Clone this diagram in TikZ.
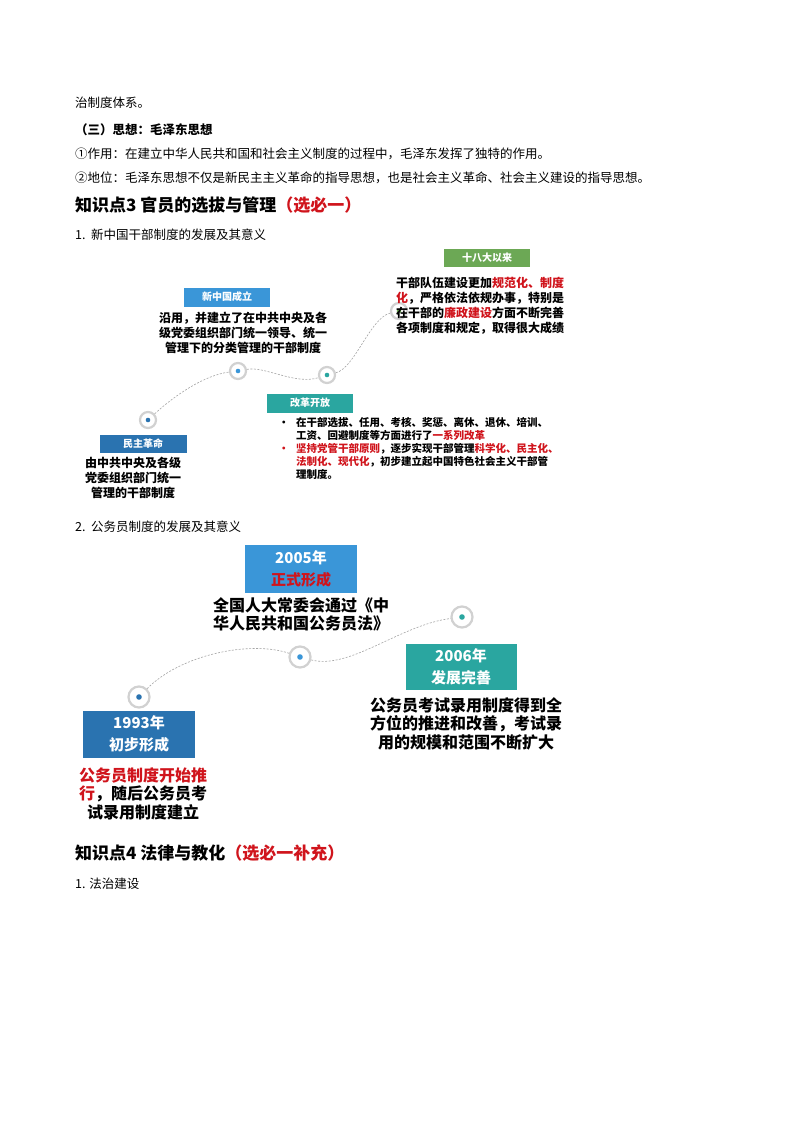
\documentclass[tikz,border=0pt]{standalone}
\usepackage{fontspec}
\setmainfont{Noto Sans CJK SC}
\XeTeXlinebreaklocale "zh"
\XeTeXlinebreakskip=0pt plus 1pt
\usetikzlibrary{calc}
\definecolor{cblue}{HTML}{3A96D8}
\definecolor{dblue}{HTML}{2A73B0}
\definecolor{cteal}{HTML}{2AA6A0}
\definecolor{cgreen}{HTML}{6CA855}
\definecolor{cred}{HTML}{D0141C}
\newcommand{\rt}[1]{\textcolor{cred}{#1}}
\begin{document}
\begin{tikzpicture}[x=1pt,y=-1pt,
  body/.style={anchor=west,inner sep=0,font=\fontsize{12.5}{15}\selectfont},
  head/.style={anchor=west,inner sep=0,font=\fontsize{17}{20}\selectfont\bfseries},
  tag/.style={fill=#1,text=white,inner sep=0,font=\fontsize{10}{12}\selectfont\bfseries},
  btag/.style={fill=#1,text=white,inner sep=0,align=center,font=\fontsize{15}{22}\selectfont\bfseries},
  desc/.style={inner sep=0,font=\fontsize{12}{15}\selectfont\bfseries},
  bdesc/.style={inner sep=0,font=\fontsize{16}{18.5}\selectfont\bfseries},
  ring/.style={circle,draw=black!18,line width=2.2pt,fill=white,minimum size=#1,inner sep=0},
  path1/.style={draw=black!35,line width=0.6pt,dash pattern=on 2pt off 1.5pt}]
\useasboundingbox (0,0) rectangle (800,1132);
\fill[white] (0,0) rectangle (800,1132);
\node[body] (t1) at (75,103) {治制度体系。};
\node[body,font=\fontsize{12.5}{15}\selectfont\bfseries] (t2) at (75,130) {（三）思想：毛泽东思想};
\node[body] (t3) at (75,154) {①作用：在建立中华人民共和国和社会主义制度的过程中，毛泽东发挥了独特的作用。};
\node[body] (t4) at (75,178) {②地位：毛泽东思想不仅是新民主主义革命的指导思想，也是社会主义革命、社会主义建设的指导思想。};
\node[head] (h1) at (75,205) {知识点3 官员的选拔与管理\rt{（选必一）}};
\node[body] (s1) at (75,235) {1.\ \ 新中国干部制度的发展及其意义};
% diagram 1
\node[ring=16pt] (a1) at (148,420) {}; \fill[dblue] (a1) circle (2.3);
\node[ring=16pt] (a2) at (238,371) {}; \fill[cblue] (a2) circle (2.3);
\node[ring=16pt] (a3) at (327,375) {}; \fill[cteal] (a3) circle (2.3);
\node[ring=16pt] (a4) at (399,311) {}; \fill[cgreen] (a4) circle (2.3);
\draw[path1] (a1) .. controls (175,395) and (205,375) .. (a2);
\draw[path1] (a2) .. controls (265,366) and (295,385) .. (a3);
\draw[path1] (a3) .. controls (355,368) and (370,318) .. (a4);
\node[tag=cgreen,minimum width=86,minimum height=18] (b4) at (487,258) {十八大以来};
\node[desc,anchor=north west,align=left] (d4) at (396,277) {干部队伍建设更加\rt{规范化、制度}\\\rt{化}，严格依法依规办事，特别是\\在干部的\rt{廉政建设}方面不断完善\\各项制度和规定，取得很大成绩};
\node[tag=cblue,minimum width=86,minimum height=19] (b2) at (227,297) {新中国成立};
\node[desc,anchor=north,align=center] (d2) at (243,312) {沿用，并建立了在中共中央及各\\级党委组织部门统一领导、统一\\管理下的分类管理的干部制度};
\node[tag=cteal,minimum width=86,minimum height=19] (b3) at (310,403) {改革开放};
\node[inner sep=0,anchor=north west,align=left,font=\fontsize{10.5}{13}\selectfont\bfseries] (d3) at (296,417) {%
\makebox[0pt][r]{•\hspace{7pt}}在干部选拔、任用、考核、奖惩、离休、退休、培训、\\工资、回避制度等方面进行了\rt{一系列改革}\\
\makebox[0pt][r]{\rt{•}\hspace{7pt}}\rt{坚持党管干部原则}，逐步实现干部管理\rt{科学化、民主化、}\\\rt{法制化、现代化}，初步建立起中国特色社会主义干部管\\理制度。};
\node[tag=dblue,minimum width=87,minimum height=18] (b1) at (143,444) {民主革命};
\node[desc,anchor=north,align=center] (d1) at (133,457) {由中共中央及各级\\党委组织部门统一\\管理的干部制度};
\node[body] (s2) at (75,527) {2.\ \ 公务员制度的发展及其意义};
% diagram 2
\node[ring=21pt] (c1) at (139,697) {}; \fill[dblue] (c1) circle (2.8);
\node[ring=21pt] (c2) at (300,657) {}; \fill[cblue] (c2) circle (2.8);
\node[ring=21pt] (c3) at (462,617) {}; \fill[cteal] (c3) circle (2.8);
\draw[path1] (c1) .. controls (180,655) and (250,640) .. (c2);
\draw[path1] (c2) .. controls (350,670) and (400,625) .. (c3);
\node[btag=cblue,minimum width=112,minimum height=48] (e2) at (301,569) {2005年\\\rt{正式形成}};
\node[bdesc,anchor=north west,align=left] (f2) at (213,597) {全国人大常委会通过《中\\华人民共和国公务员法》};
\node[btag=cteal,minimum width=111,minimum height=46] (e3) at (461,667) {2006年\\发展完善};
\node[bdesc,anchor=north,align=center] (f3) at (466,697) {公务员考试录用制度得到全\\方位的推进和改善，考试录\\用的规模和范围不断扩大};
\node[btag=dblue,minimum width=112,minimum height=47] (e1) at (139,734) {1993年\\初步形成};
\node[bdesc,anchor=north,align=center] (f1) at (143,767) {\rt{公务员制度开始推}\\\rt{行}，随后公务员考\\试录用制度建立};
\node[head] (h2) at (75,853) {知识点4 法律与教化\rt{（选必一补充）}};
\node[body] (s3) at (75,884) {1. 法治建设};
\end{tikzpicture}
\end{document}
